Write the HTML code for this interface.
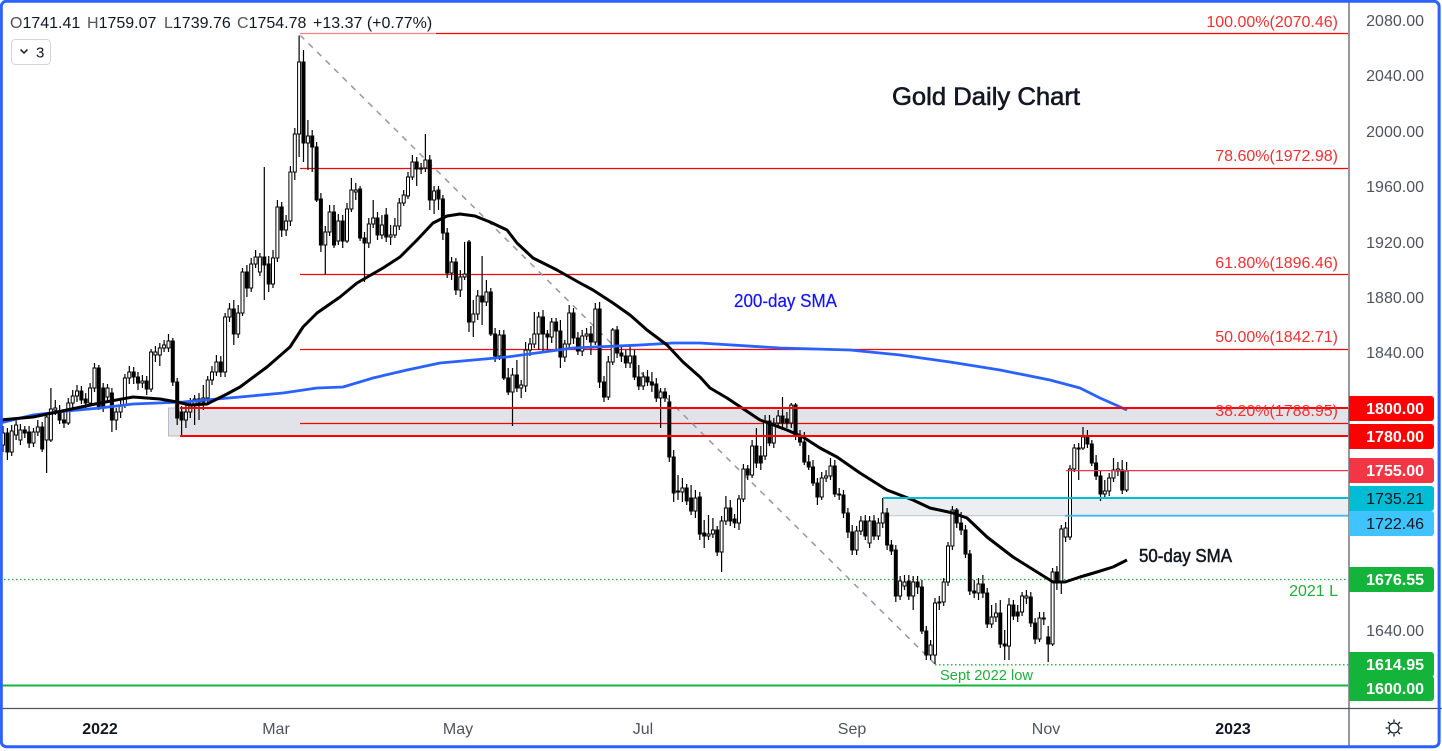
<!DOCTYPE html>
<html><head><meta charset="utf-8"><style>
html,body{margin:0;padding:0;background:#fff;}
svg{display:block;font-family:"Liberation Sans",sans-serif;}
</style></head><body>
<svg width="1442" height="751" viewBox="0 0 1442 751" xmlns="http://www.w3.org/2000/svg">
<rect width="1442" height="751" fill="#fff"/>
<!-- zones -->
<rect x="168.5" y="408" width="1180" height="28" fill="#e1e3e8" stroke="#b8bcc6" stroke-width="1"/>
<rect x="883" y="498" width="466" height="17.7" fill="#eceef2" stroke="#b9c4d8" stroke-width="1"/>
<!-- fib lines -->
<path d="M300 33.5H1348M300 168.5H1348M300 274.5H1348M300 349.5H1348M300 423.5H1348" stroke="#ff0000" stroke-width="1.2" fill="none"/>
<!-- green dotted -->
<path d="M0 579.5H1348" stroke="#1fae3c" stroke-width="1.3" stroke-dasharray="1.5 2.5" fill="none"/>
<path d="M935 664.8H1348" stroke="#1fae3c" stroke-width="1.3" stroke-dasharray="1.5 2.5" fill="none"/>
<!-- diagonal -->
<path d="M300 35L935 664" stroke="#9598a1" stroke-width="1.5" stroke-dasharray="6 6" fill="none"/>
<!-- wicks -->
<path stroke="#000" stroke-width="1.2" fill="none" d="M3 426V452M7.4 428V460M11.7 425V456M16.1 420V440M20.4 424V445M24.8 426V438M29.1 426V448M33.5 428V447M37.8 420V436M42.2 422V452M46.6 412V473M50.9 388V442M55.3 400V415M59.6 405V424M64 410V428M68.3 398V425M72.7 390V408M77 385V402M81.4 386V404M85.7 393V410M90.1 383V406M94.5 363V392M98.8 365V410M103.2 383V412M107.5 384V402M111.9 388V432M116.2 408V430M120.6 400V418M124.9 374V408M129.3 366V384M133.7 367V384M138 372V390M142.4 375V388M146.7 376V395M151.1 349V392M155.4 346V362M159.8 343V366M164.1 340V352M168.5 334V352M172.8 338V386M177.2 378V425M181.6 406V437M185.9 405V428M190.3 398V418M194.6 395V425M199 393V420M203.3 385V410M207.7 376V403M212 366V385M216.4 355V376M220.8 356V377M225.1 313V377M229.5 303V322M233.8 300V345M238.2 305V338M242.5 268V316M246.9 265V297M251.2 258V292M255.6 250V268M259.9 253V276M264.3 167V300M268.7 256V292M273 250V288M277.4 200V262M281.7 202V237M286.1 215V236M290.4 166V226M294.8 128V180M299.1 35V157M303.5 50V162M307.9 120V170M312.2 130V172M316.6 142V202M320.9 193V252M325.3 226V275M329.6 205V236M334 205V248M338.3 214V245M342.7 215V248M347 203V243M351.4 178V212M355.8 183V200M360.1 186V241M364.5 232V282M368.8 218V248M373.2 200V228M377.5 212V240M381.9 215V239M386.2 208V242M390.6 225V245M394.9 218V238M399.3 198V230M403.7 190V206M408 172V199M412.4 155V180M416.7 157V186M421.1 163V174M425.4 134V172M429.8 155V210M434.1 186V214M438.5 186V210M442.9 195V240M447.2 228V278M451.6 257V280M455.9 258V295M460.3 270V297M464.6 242V280M469 240V332M473.3 300V337M477.7 290V320M482.1 256V325M486.4 280V306M490.8 288V336M495.1 328V362M499.5 330V360M503.8 330V380M508.2 368V395M512.5 368V426M516.9 360V392M521.2 380V398M525.6 342V392M530 338V356M534.3 312V348M538.7 312V350M543 310V352M547.4 330V352M551.7 318V343M556.1 318V350M560.4 320V368M564.8 340V362M569.2 305V348M573.5 308V344M577.9 332V355M582.2 330V356M586.6 328V340M590.9 326V355M595.3 303V345M599.6 302V388M604 376V402M608.3 356V400M612.7 328V365M617.1 326V358M621.4 345V362M625.8 350V368M630.1 345V368M634.5 350V380M638.8 365V390M643.2 372V390M647.5 370V386M651.9 372V392M656.3 378V402M660.6 388V428M665 388V402M669.3 395V462M673.7 450V502M678 475V500M682.4 478V502M686.7 484V505M691.1 485V515M695.4 490V518M699.8 492V540M704.2 520V548M708.5 515V540M712.9 518V538M717.2 526V556M721.6 516V572M725.9 496V525M730.3 500V526M734.6 514V528M739 495V530M743.4 464V502M747.7 465V480M752.1 440V478M756.4 428V468M760.8 446V470M765.1 415V460M769.5 415V446M773.8 418V448M778.2 410V428M782.5 397V430M786.9 412V428M791.3 403V428M795.6 403V440M800 430V446M804.3 432V465M808.7 455V470M813 460V486M817.4 478V505M821.7 472V500M826.1 470V482M830.5 458V480M834.8 460V497M839.2 488V500M843.5 490V518M847.9 508V538M852.2 525V555M856.6 526V555M860.9 516V535M865.3 515V540M869.6 516V548M874 515V540M878.4 518V540M882.7 498V528M887.1 508V550M891.4 540V555M895.8 545V602M900.1 576V600M904.5 575V590M908.8 575V600M913.2 576V610M917.6 576V594M921.9 580V634M926.3 626V660M930.6 640V660M935 598V664M939.3 596V610M943.7 578V606M948 542V586M952.4 506V550M956.7 508V528M961.1 512V535M965.5 525V558M969.8 550V595M974.2 580V598M978.5 578V600M982.9 575V598M987.2 588V628M991.6 605V628M995.9 603V622M1000.3 600V648M1004.7 630V660M1009 598V660M1013.4 600V620M1017.7 605V622M1022.1 592V616M1026.4 590V604M1030.8 592V627M1035.1 618V644M1039.5 612V642M1043.8 612V625M1048.2 626V662M1052.6 568V646M1056.9 566V590M1061.3 525V594M1065.6 522V542M1070 465V540M1074.3 444V472M1078.7 443V480M1083 427V450M1087.4 430V448M1091.8 440V466M1096.1 455V480M1100.5 470V501M1104.8 480V498M1109.2 473V496M1113.5 458V482M1117.9 462V476M1122.2 460V494M1126.6 462V492"/>
<!-- white bodies -->
<path fill="#fff" stroke="#000" stroke-width="1" d="M1.5 433h3v12h-3zM10.2 431h3v21h-3zM14.6 425h3v10h-3zM18.9 430h3v10h-3zM32 432h3v11h-3zM36.3 427h3v5h-3zM45.1 417h3v23h-3zM49.4 409h3v31h-3zM53.8 408h3v2h-3zM66.8 403h3v20h-3zM71.2 396h3v7h-3zM75.5 391h3v5h-3zM88.6 388h3v15h-3zM93 368h3v20h-3zM106 388h3v9h-3zM114.7 412h3v8h-3zM119.1 405h3v7h-3zM123.4 378h3v27h-3zM127.8 372h3v6h-3zM140.9 381h3v2h-3zM149.6 352h3v37h-3zM153.9 352h3v3h-3zM158.3 348h3v7h-3zM162.6 345h3v3h-3zM167 341h3v7h-3zM184.4 412h3v8h-3zM188.8 406h3v6h-3zM193.1 399h3v7h-3zM201.8 398h3v4h-3zM206.2 380h3v18h-3zM210.5 372h3v8h-3zM214.9 362h3v10h-3zM223.6 317h3v55h-3zM228 309h3v8h-3zM236.7 313h3v21h-3zM241 272h3v41h-3zM249.7 264h3v24h-3zM254.1 257h3v7h-3zM258.4 257h3v15h-3zM271.5 258h3v26h-3zM275.9 207h3v51h-3zM284.6 221h3v9h-3zM288.9 172h3v49h-3zM293.3 134h3v38h-3zM297.6 62h3v72h-3zM306.4 136h3v7h-3zM323.8 232h3v13h-3zM328.1 212h3v20h-3zM336.8 221h3v20h-3zM345.5 209h3v32h-3zM349.9 190h3v19h-3zM354.3 190h3v2h-3zM367.3 224h3v19h-3zM371.7 218h3v6h-3zM380.4 225h3v10h-3zM389.1 235h3v2h-3zM393.4 226h3v9h-3zM397.8 203h3v23h-3zM402.2 195h3v8h-3zM406.5 177h3v19h-3zM410.9 162h3v15h-3zM423.9 160h3v8h-3zM432.6 191h3v9h-3zM450.1 262h3v11h-3zM458.8 277h3v13h-3zM463.1 274h3v3h-3zM471.8 314h3v8h-3zM476.2 296h3v18h-3zM484.9 292h3v10h-3zM498 335h3v21h-3zM511 375h3v17h-3zM519.7 385h3v3h-3zM524.1 350h3v36h-3zM528.5 344h3v6h-3zM532.8 334h3v10h-3zM537.2 317h3v17h-3zM550.2 322h3v15h-3zM563.3 344h3v13h-3zM567.7 313h3v31h-3zM580.7 336h3v15h-3zM585.1 334h3v2h-3zM593.8 309h3v33h-3zM606.8 362h3v35h-3zM611.2 330h3v32h-3zM628.6 356h3v7h-3zM641.7 377h3v9h-3zM659.1 392h3v6h-3zM680.9 488h3v4h-3zM693.9 498h3v13h-3zM707 534h3v2h-3zM711.4 530h3v4h-3zM720.1 521h3v31h-3zM724.4 508h3v13h-3zM737.5 499h3v24h-3zM741.9 469h3v30h-3zM750.6 446h3v29h-3zM763.6 421h3v35h-3zM772.3 423h3v20h-3zM776.7 416h3v7h-3zM789.8 405h3v18h-3zM820.2 478h3v19h-3zM824.6 476h3v2h-3zM829 466h3v10h-3zM855.1 531h3v19h-3zM859.4 521h3v10h-3zM868.1 521h3v22h-3zM876.9 523h3v13h-3zM881.2 513h3v10h-3zM898.6 581h3v15h-3zM903 582h3v4h-3zM911.7 582h3v14h-3zM929.1 645h3v10h-3zM933.5 603h3v52h-3zM937.8 602h3v1h-3zM942.2 582h3v20h-3zM946.5 546h3v36h-3zM950.9 510h3v36h-3zM977 584h3v9h-3zM990.1 617h3v7h-3zM994.4 613h3v4h-3zM1007.5 605h3v41h-3zM1020.6 596h3v16h-3zM1024.9 596h3v2h-3zM1038 618h3v21h-3zM1042.3 618h3v1h-3zM1051.1 572h3v72h-3zM1059.8 529h3v53h-3zM1064.1 528h3v9h-3zM1068.5 469h3v68h-3zM1072.8 448h3v21h-3zM1077.2 448h3v1h-3zM1081.5 437h3v11h-3zM1103.3 491h3v3h-3zM1107.7 478h3v13h-3zM1112 470h3v8h-3zM1116.4 469h3v2h-3zM1125.1 471h3v19h-3z"/>
<!-- black bodies -->
<path fill="#000" stroke="#000" stroke-width="1" d="M5.9 433h3v19h-3zM23.3 430h3v3h-3zM27.6 432h3v11h-3zM40.7 427h3v22h-3zM58.1 411h3v9h-3zM62.5 420h3v3h-3zM79.9 391h3v9h-3zM84.2 399h3v4h-3zM97.3 368h3v39h-3zM101.7 388h3v19h-3zM110.4 393h3v27h-3zM132.2 372h3v5h-3zM136.5 377h3v6h-3zM145.2 381h3v8h-3zM171.3 341h3v41h-3zM175.7 382h3v36h-3zM180.1 412h3v8h-3zM197.5 399h3v3h-3zM219.3 362h3v10h-3zM232.3 309h3v25h-3zM245.4 272h3v16h-3zM262.8 257h3v8h-3zM267.2 264h3v20h-3zM280.2 207h3v23h-3zM302 62h3v81h-3zM310.7 136h3v11h-3zM315.1 147h3v53h-3zM319.4 199h3v46h-3zM332.5 212h3v33h-3zM341.2 221h3v20h-3zM358.6 189h3v49h-3zM363 238h3v5h-3zM376 218h3v17h-3zM384.7 215h3v22h-3zM415.2 162h3v7h-3zM419.6 168h3v1h-3zM428.3 160h3v40h-3zM437 190h3v9h-3zM441.4 199h3v34h-3zM445.7 233h3v40h-3zM454.4 262h3v28h-3zM467.5 242h3v80h-3zM480.6 296h3v6h-3zM489.3 292h3v42h-3zM493.6 334h3v22h-3zM502.3 335h3v43h-3zM506.7 378h3v14h-3zM515.4 375h3v13h-3zM541.5 317h3v17h-3zM545.9 334h3v3h-3zM554.6 322h3v9h-3zM558.9 331h3v26h-3zM572 313h3v25h-3zM576.4 338h3v13h-3zM589.4 334h3v8h-3zM598.1 309h3v73h-3zM602.5 382h3v15h-3zM615.6 330h3v23h-3zM619.9 353h3v3h-3zM624.3 356h3v7h-3zM633 356h3v21h-3zM637.3 377h3v9h-3zM646 377h3v5h-3zM650.4 382h3v3h-3zM654.8 384h3v14h-3zM663.5 392h3v6h-3zM667.8 402h3v55h-3zM672.2 457h3v36h-3zM676.5 491h3v1h-3zM685.2 488h3v13h-3zM689.6 498h3v13h-3zM698.3 497h3v37h-3zM702.7 533h3v3h-3zM715.7 530h3v22h-3zM728.8 508h3v13h-3zM733.1 519h3v4h-3zM746.2 469h3v6h-3zM754.9 446h3v17h-3zM759.3 456h3v7h-3zM768 421h3v22h-3zM781 416h3v7h-3zM785.4 419h3v4h-3zM794.1 405h3v31h-3zM798.5 436h3v6h-3zM802.8 442h3v20h-3zM807.2 462h3v5h-3zM811.5 467h3v16h-3zM815.9 483h3v14h-3zM833.3 466h3v28h-3zM837.7 494h3v1h-3zM842 495h3v18h-3zM846.4 513h3v19h-3zM850.7 532h3v18h-3zM863.8 521h3v15h-3zM872.5 521h3v15h-3zM885.6 513h3v32h-3zM889.9 545h3v6h-3zM894.3 550h3v46h-3zM907.3 581h3v15h-3zM916.1 582h3v5h-3zM920.4 587h3v44h-3zM924.8 631h3v24h-3zM955.2 510h3v13h-3zM959.6 523h3v7h-3zM964 530h3v24h-3zM968.3 554h3v37h-3zM972.7 591h3v2h-3zM981.4 584h3v9h-3zM985.7 593h3v31h-3zM998.8 613h3v31h-3zM1003.2 644h3v2h-3zM1011.9 605h3v11h-3zM1016.2 612h3v4h-3zM1029.3 597h3v26h-3zM1033.6 623h3v16h-3zM1046.7 637h3v7h-3zM1055.4 572h3v10h-3zM1085.9 437h3v7h-3zM1090.3 444h3v19h-3zM1094.6 463h3v13h-3zM1099 476h3v18h-3zM1120.7 470h3v20h-3z"/>
<!-- SMAs -->
<polyline fill="none" stroke="#2962ff" stroke-width="2.8" stroke-linejoin="round" points="0,423 33,415 67,411 100,408 133,404 183,402 217,399 240,397 283,393 317,388 343,387 373,378 407,370 440,363 507,357 573,348 640,345 673,343 700,343 780,348 850,350 900,355 950,362 1000,370 1050,380 1080,388 1100,398 1127,410"/>
<polyline fill="none" stroke="#000" stroke-width="3" stroke-linejoin="round" points="0,420 33,417 67,410 100,403 133,397 160,399 177,402 190,405 207,404 227,394 240,387 267,367 290,347 303,327 317,313 340,297 357,283 383,268 400,257 417,240 433,223 447,216 460,214 475,216 490,222 507,230 517,243 533,258 557,270 580,283 593,290 613,303 630,315 647,330 667,345 683,362 700,377 710,388 727,398 760,420 787,430 803,437 820,448 837,457 860,473 887,490 913,500 930,508 953,513 967,518 987,537 1013,557 1037,572 1053,582 1065,582 1080,577 1097,572 1113,567 1127,560"/>
<!-- key lines -->
<path d="M180 408H1348M180 436H1348" stroke="#ff0000" stroke-width="2" fill="none"/>
<path d="M1066 470.6H1348" stroke="#f23645" stroke-width="1.2" fill="none"/>
<path d="M883 498H1348" stroke="#00bcd4" stroke-width="2" fill="none"/>
<path d="M1065 515.7H1348" stroke="#42b6f4" stroke-width="1.8" fill="none"/>
<path d="M0 685.5H1348" stroke="#14b43a" stroke-width="2" fill="none"/>
<!-- header legend bg -->
<rect x="4" y="8" width="432" height="28" fill="#fff" fill-opacity="0.5"/>
<text x="10" y="28" font-size="16" fill="#131722"><tspan fill="#555">O</tspan>1741.41<tspan x="87" fill="#555">H</tspan>1759.07<tspan x="164" fill="#555">L</tspan>1739.76<tspan x="237" fill="#555">C</tspan>1754.78<tspan x="313">+13.37 (+0.77%)</tspan></text>
<rect x="11.5" y="39.5" width="39" height="25" rx="4" fill="#fff" stroke="#d1d4dc"/>
<path d="M20.5 49.5l3.5 3.5 3.5-3.5" stroke="#131722" stroke-width="1.5" fill="none"/>
<text x="36" y="57.5" font-size="15" fill="#131722">3</text>
<!-- chart texts -->
<text x="892" y="105" font-size="25" fill="#131722" textLength="188" lengthAdjust="spacingAndGlyphs" stroke="#131722" stroke-width="0.6">Gold Daily Chart</text>
<text x="734" y="307" font-size="18" fill="#1414ff" textLength="103" lengthAdjust="spacingAndGlyphs" stroke="#1414ff" stroke-width="0.2">200-day SMA</text>
<text x="1139" y="562" font-size="18" fill="#131722" textLength="93" lengthAdjust="spacingAndGlyphs" stroke="#131722" stroke-width="0.5">50-day SMA</text>
<g font-size="16" fill="#f23030" text-anchor="end">
<text x="1338" y="27">100.00%(2070.46)</text>
<text x="1338" y="161">78.60%(1972.98)</text>
<text x="1338" y="268">61.80%(1896.46)</text>
<text x="1338" y="342">50.00%(1842.71)</text>
<text x="1338" y="416">38.20%(1788.95)</text>
</g>
<text x="1338" y="596" font-size="16" fill="#1fae3c" text-anchor="end">2021 L</text>
<text x="940" y="680" font-size="15" fill="#1fae3c" textLength="93" lengthAdjust="spacingAndGlyphs">Sept 2022 low</text>
<!-- axes -->
<rect x="1349" y="0" width="93" height="751" fill="#fff"/>
<path d="M1349 0V748M0 708.5H1442" stroke="#50535e" stroke-width="1.2" fill="none"/>
<g font-size="16" fill="#50535e" text-anchor="end">
<text x="1424" y="26">2080.00</text>
<text x="1424" y="81">2040.00</text>
<text x="1424" y="137">2000.00</text>
<text x="1424" y="192">1960.00</text>
<text x="1424" y="248">1920.00</text>
<text x="1424" y="303">1880.00</text>
<text x="1424" y="358">1840.00</text>
<text x="1424" y="469">1760.00</text>
<text x="1424" y="636">1640.00</text>
</g>
<!-- tags -->
<path d="M1349 396H1431a3 3 0 0 1 3 3v19a3 3 0 0 1-3 3H1349z" fill="#ff0000"/>
<path d="M1349 424H1431a3 3 0 0 1 3 3v19a3 3 0 0 1-3 3H1349z" fill="#ff0000"/>
<path d="M1349 458H1431a3 3 0 0 1 3 3v19a3 3 0 0 1-3 3H1349z" fill="#f23645"/>
<path d="M1349 486H1431a3 3 0 0 1 3 3v19a3 3 0 0 1-3 3H1349z" fill="#00bcd4"/>
<path d="M1349 511H1431a3 3 0 0 1 3 3v19a3 3 0 0 1-3 3H1349z" fill="#40c4ff"/>
<path d="M1349 567H1431a3 3 0 0 1 3 3v19a3 3 0 0 1-3 3H1349z" fill="#14b43a"/>
<path d="M1349 652H1431a3 3 0 0 1 3 3v19a3 3 0 0 1-3 3H1349z" fill="#14b43a"/>
<path d="M1349 676H1431a3 3 0 0 1 3 3v19a3 3 0 0 1-3 3H1349z" fill="#14b43a"/>
<g font-size="16" text-anchor="end" font-weight="bold">
<text x="1424" y="414" fill="#fff">1800.00</text>
<text x="1424" y="442" fill="#fff">1780.00</text>
<text x="1424" y="476" fill="#fff">1755.00</text>
<text x="1424" y="504" fill="#131722" font-weight="normal">1735.21</text>
<text x="1424" y="529" fill="#131722" font-weight="normal">1722.46</text>
<text x="1424" y="585" fill="#fff">1676.55</text>
<text x="1424" y="670" fill="#fff">1614.95</text>
<text x="1424" y="694" fill="#fff">1600.00</text>
</g>
<!-- time axis -->
<g font-size="16" fill="#50535e" text-anchor="middle">
<text x="100" y="734" fill="#131722" font-weight="bold">2022</text>
<text x="276" y="734">Mar</text>
<text x="458" y="734">May</text>
<text x="643" y="734">Jul</text>
<text x="852" y="734">Sep</text>
<text x="1046" y="734">Nov</text>
<text x="1233" y="734" fill="#131722" font-weight="bold">2023</text>
</g>
<!-- settings icon -->
<g stroke="#131722" stroke-width="1.3" fill="none">
<circle cx="1394" cy="728" r="5"/>
<path d="M1394 719.5v2.5M1394 734v2.5M1385.5 728h2.5M1400 728h2.5M1388 722l1.8 1.8M1398.2 732.2l1.8 1.8M1388 734l1.8-1.8M1398.2 723.8l1.8-1.8"/>
</g>
<!-- frame -->
<rect x="1.3" y="1.3" width="1437.8" height="745.4" rx="5" fill="none" stroke="#2962ff" stroke-width="3"/>
</svg>
</body></html>
